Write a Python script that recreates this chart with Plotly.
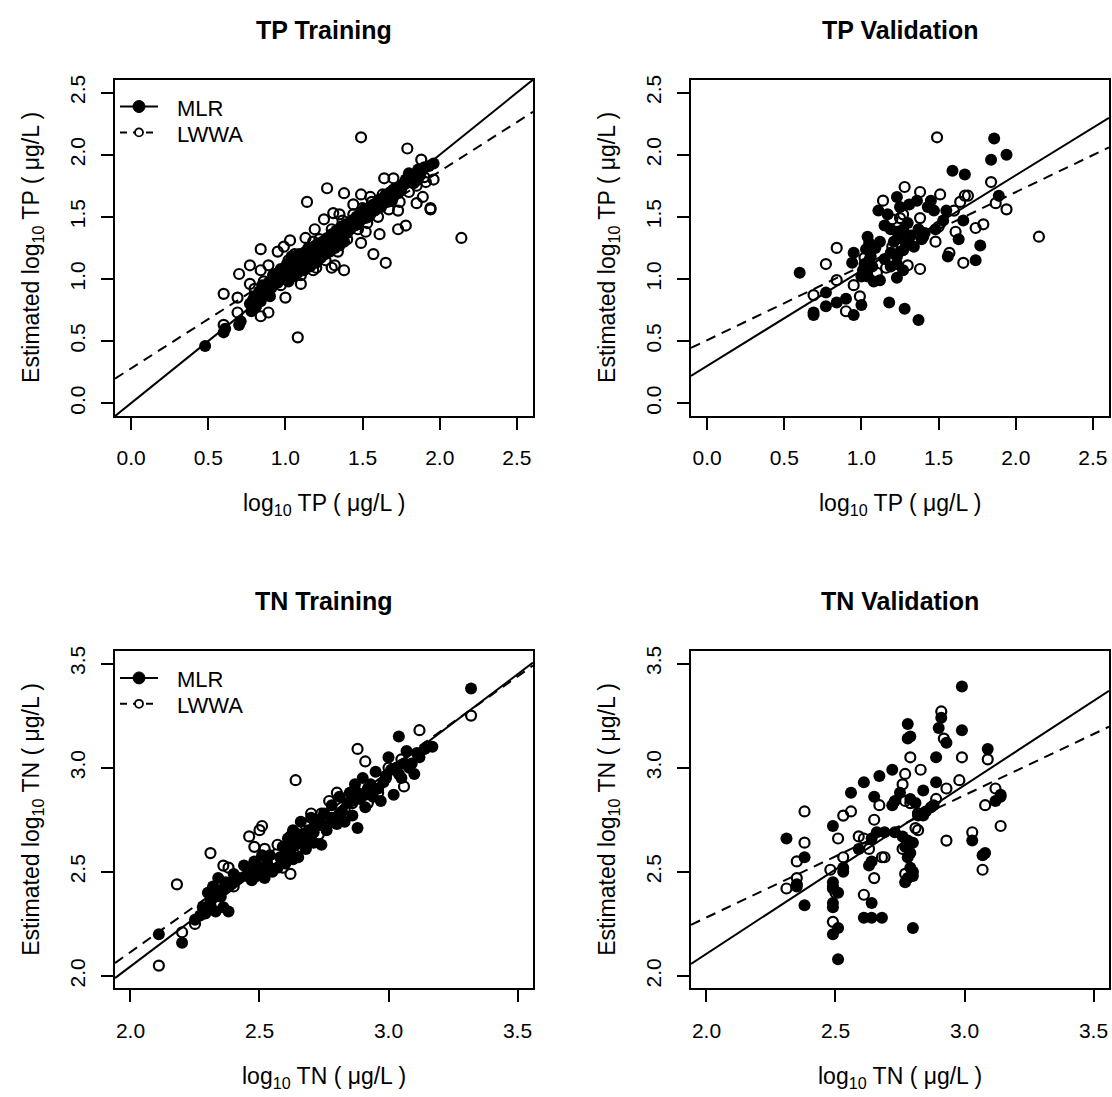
import plotly.graph_objects as go

# ------------------------------------------------------------------ data
# TP training
tp_train_mlr_x = [0.48, 0.60, 0.61, 0.70, 0.71, 0.77, 0.78, 0.80, 0.81, 0.83, 0.84, 0.85, 0.86, 0.88, 0.90,
                  0.92, 0.93, 0.95, 0.97, 0.98, 1.00, 1.01, 1.02, 1.03, 1.04, 1.05, 1.06, 1.07, 1.08, 1.09,
                  1.10, 1.11, 1.12, 1.13, 1.14, 1.15, 1.16, 1.17, 1.18, 1.19, 1.20, 1.21, 1.22, 1.23, 1.24,
                  1.25, 1.26, 1.27, 1.28, 1.29, 1.30, 1.31, 1.32, 1.33, 1.34, 1.35, 1.36, 1.37, 1.38, 1.39,
                  1.40, 1.42, 1.43, 1.45, 1.46, 1.48, 1.50, 1.52, 1.53, 1.55, 1.57, 1.58, 1.60, 1.62, 1.64,
                  1.66, 1.68, 1.70, 1.72, 1.75, 1.78, 1.80, 1.82, 1.84, 1.86, 1.88, 1.90, 1.93, 1.96,
                  0.79, 0.82, 0.87, 0.89, 0.91, 0.94, 0.96, 0.99, 1.015, 1.035, 1.055, 1.075, 1.095, 1.115,
                  1.135, 1.155, 1.175, 1.195, 1.215, 1.235, 1.255, 1.275, 1.295, 1.315, 1.335, 1.355, 1.375,
                  1.41, 1.44, 1.47, 1.49, 1.51, 1.54, 1.56, 1.59, 1.61, 1.65, 1.69, 1.73, 1.77, 1.83, 1.87]
tp_train_mlr_y = [0.46, 0.57, 0.60, 0.63, 0.66, 0.80, 0.74, 0.86, 0.78, 0.90, 0.82, 0.95, 0.88, 0.93, 0.86,
                  0.98, 1.04, 0.97, 1.08, 1.00, 1.05, 1.12, 0.98, 1.10, 1.18, 1.02, 1.08, 1.14, 1.05, 1.20,
                  1.10, 1.16, 1.07, 1.22, 1.12, 1.18, 1.10, 1.25, 1.15, 1.20, 1.13, 1.28, 1.22, 1.17, 1.30,
                  1.24, 1.20, 1.33, 1.26, 1.22, 1.36, 1.29, 1.25, 1.39, 1.31, 1.27, 1.42, 1.34, 1.30, 1.44,
                  1.37, 1.40, 1.47, 1.43, 1.50, 1.46, 1.53, 1.49, 1.56, 1.52, 1.60, 1.55, 1.63, 1.58, 1.66,
                  1.62, 1.70, 1.66, 1.73, 1.72, 1.80, 1.85, 1.78, 1.84, 1.88, 1.86, 1.90, 1.91, 1.93,
                  0.83, 0.85, 0.92, 0.97, 0.93, 1.00, 1.02, 1.06, 1.04, 1.14, 1.09, 1.19, 1.13, 1.10,
                  1.17, 1.24, 1.19, 1.27, 1.17, 1.26, 1.29, 1.24, 1.31, 1.34, 1.28, 1.37, 1.39,
                  1.43, 1.46, 1.44, 1.50, 1.56, 1.50, 1.58, 1.57, 1.64, 1.68, 1.63, 1.69, 1.76, 1.81, 1.83]
tp_train_lwwa_x = [1.49, 1.79, 1.88, 1.64, 1.70, 1.27, 1.38, 1.14, 1.96, 1.91, 1.83, 1.89, 1.85, 1.94, 1.94,
                   1.73, 1.78, 1.73, 1.61, 2.14, 1.49, 1.57, 1.65, 1.32, 1.38, 1.30, 1.20, 0.84, 0.95, 0.99,
                   1.03, 0.77, 0.89, 0.70, 0.84, 0.77, 0.60, 0.69, 1.00, 1.10, 0.69, 0.84, 0.89, 0.60, 1.08,
                   1.13, 1.25, 1.19, 1.49, 1.31,
                   0.80, 0.86, 0.92, 0.97, 1.02, 1.06, 1.10, 1.15, 1.18, 1.22, 1.26, 1.30, 1.34, 1.37, 1.40,
                   1.44, 1.47, 1.50, 1.53, 1.56, 1.60, 1.63, 1.67, 1.70, 1.74, 1.76, 1.80, 1.85, 1.90, 1.44,
                   1.55, 1.18, 1.52, 1.35]
tp_train_lwwa_y = [2.14, 2.05, 1.96, 1.81, 1.81, 1.73, 1.69, 1.62, 1.80, 1.78, 1.77, 1.66, 1.61, 1.57, 1.56,
                   1.55, 1.43, 1.40, 1.36, 1.33, 1.29, 1.20, 1.13, 1.11, 1.07, 1.09, 1.09, 1.24, 1.22, 1.26,
                   1.31, 1.11, 1.11, 1.04, 1.07, 0.96, 0.88, 0.85, 0.85, 0.96, 0.73, 0.70, 0.73, 0.63, 0.53,
                   1.33, 1.48, 1.40, 1.68, 1.53,
                   0.92, 0.98, 1.03, 0.95, 1.15, 1.20, 1.03, 1.25, 1.07, 1.32, 1.15, 1.40, 1.22, 1.47, 1.32,
                   1.52, 1.40, 1.57, 1.45, 1.62, 1.50, 1.68, 1.56, 1.72, 1.62, 1.76, 1.70, 1.75, 1.82, 1.60,
                   1.66, 1.30, 1.38, 1.52]

# TP validation
tp_valid_mlr_x = [0.60, 0.69, 0.69, 0.77, 0.77, 0.84, 0.90, 0.95, 1.00, 0.95, 0.94, 1.04, 1.05, 1.03, 1.06,
                  1.02, 1.01, 1.07, 1.04, 1.08, 1.12, 1.00, 1.11, 1.17, 1.23, 1.25, 1.31, 1.36, 1.15, 1.19,
                  1.23, 1.27, 1.32, 1.37, 1.39, 1.34, 1.27, 1.23, 1.19, 1.15, 1.19, 1.23, 1.27, 1.21, 1.25,
                  1.29, 1.23, 1.18, 1.28, 1.37, 1.45, 1.47, 1.43, 1.55, 1.59, 1.67, 1.86, 1.84, 1.94, 1.89,
                  1.66, 1.63, 1.56, 1.74, 1.77, 1.53, 1.41, 1.48, 1.12, 1.09, 1.30, 1.05]
tp_valid_mlr_y = [1.05, 0.73, 0.71, 0.89, 0.78, 0.81, 0.84, 0.71, 0.79, 1.21, 1.13, 1.34, 1.29, 1.24, 1.18,
                  1.12, 1.07, 1.10, 1.02, 0.98, 0.99, 1.02, 1.55, 1.52, 1.66, 1.58, 1.60, 1.63, 1.43, 1.40,
                  1.38, 1.40, 1.35, 1.40, 1.32, 1.26, 1.23, 1.18, 1.21, 1.16, 1.10, 1.12, 1.07, 1.30, 1.33,
                  1.28, 1.01, 0.81, 0.76, 0.67, 1.63, 1.55, 1.58, 1.55, 1.87, 1.84, 2.13, 1.96, 2.00, 1.67,
                  1.47, 1.32, 1.18, 1.15, 1.27, 1.47, 1.37, 1.40, 1.30, 1.25, 1.45, 1.15]
tp_valid_lwwa_x = [1.49, 1.84, 1.87, 1.94, 2.15, 1.28, 1.38, 1.51, 1.14, 1.64, 1.67, 1.69, 1.60, 1.38, 1.25,
                   1.27, 1.61, 1.74, 1.79, 1.48, 1.40, 0.84, 0.77, 0.84, 0.69, 0.90, 0.99, 0.95, 1.02, 1.30,
                   1.38, 1.16, 1.57, 1.66, 1.20, 1.10, 1.50, 1.20]
tp_valid_lwwa_y = [2.14, 1.78, 1.61, 1.56, 1.34, 1.74, 1.70, 1.68, 1.63, 1.62, 1.67, 1.67, 1.55, 1.49, 1.49,
                   1.52, 1.38, 1.41, 1.44, 1.30, 1.34, 1.25, 1.12, 0.99, 0.87, 0.74, 0.86, 0.95, 1.17, 1.11,
                   1.08, 1.09, 1.21, 1.13, 1.26, 1.05, 1.42, 1.48]

# TN training
tn_train_mlr_x = [2.11, 2.20, 2.25, 2.28, 2.29, 2.30, 2.31, 2.32, 2.33, 2.34, 2.35, 2.36, 2.37, 2.38, 2.40,
                  2.44, 2.46, 2.47, 2.48, 2.49, 2.50, 2.51, 2.52, 2.53, 2.55, 2.58, 2.59, 2.60, 2.61, 2.62,
                  2.63, 2.64, 2.65, 2.66, 2.67, 2.68, 2.69, 2.70, 2.71, 2.72, 2.74, 2.75, 2.76, 2.78, 2.79,
                  2.80, 2.81, 2.82, 2.84, 2.85, 2.86, 2.87, 2.88, 2.89, 2.90, 2.91, 2.92, 2.94, 2.95, 2.97,
                  2.98, 3.00, 3.02, 3.03, 3.04, 3.05, 3.07, 3.09, 3.10, 3.12, 3.17, 3.32,
                  2.27, 2.31, 2.33, 2.36, 2.39, 2.42, 2.45, 2.49, 2.52, 2.54, 2.57, 2.60, 2.62, 2.63, 2.65,
                  2.67, 2.69, 2.71, 2.73, 2.76, 2.78, 2.81, 2.83, 2.86, 2.88, 2.91, 2.93, 2.96, 2.99, 3.01,
                  3.04, 3.06, 3.08, 3.11, 3.14]
tn_train_mlr_y = [2.20, 2.16, 2.27, 2.33, 2.30, 2.40, 2.36, 2.43, 2.31, 2.47, 2.38, 2.33, 2.45, 2.31, 2.49,
                  2.53, 2.50, 2.46, 2.55, 2.48, 2.52, 2.58, 2.47, 2.54, 2.50, 2.57, 2.62, 2.54, 2.66, 2.59,
                  2.70, 2.63, 2.57, 2.74, 2.66, 2.61, 2.70, 2.76, 2.64, 2.72, 2.63, 2.78, 2.70, 2.82, 2.74,
                  2.73, 2.86, 2.79, 2.83, 2.88, 2.77, 2.92, 2.71, 2.85, 2.95, 2.81, 2.90, 2.86, 2.98, 2.84,
                  2.93, 3.05, 2.87, 3.00, 3.15, 2.95, 3.08, 3.02, 2.97, 3.05, 3.10, 3.38,
                  2.29, 2.34, 2.40, 2.42, 2.44, 2.47, 2.48, 2.53, 2.50, 2.58, 2.52, 2.58, 2.64, 2.56, 2.68,
                  2.63, 2.66, 2.69, 2.75, 2.72, 2.76, 2.78, 2.74, 2.84, 2.88, 2.87, 2.92, 2.90, 2.96, 2.99,
                  2.97, 3.02, 3.00, 3.07, 3.09]
tn_train_lwwa_x = [2.11, 2.18, 2.20, 2.25, 2.31, 2.36, 2.38, 2.34, 2.40, 2.46, 2.51, 2.50, 2.48, 2.52, 2.55,
                   2.59, 2.62, 2.61, 2.64, 2.62, 2.66, 2.68, 2.70, 2.73, 2.77, 2.74, 2.80, 2.83, 2.86, 2.88,
                   2.91, 2.92, 2.96, 2.99, 3.06, 3.00, 3.05, 3.08, 3.12, 3.15, 3.32, 2.57]
tn_train_lwwa_y = [2.05, 2.44, 2.21, 2.25, 2.59, 2.53, 2.52, 2.39, 2.43, 2.67, 2.72, 2.70, 2.62, 2.61, 2.56,
                   2.52, 2.49, 2.56, 2.94, 2.67, 2.62, 2.72, 2.78, 2.68, 2.84, 2.78, 2.88, 2.80, 2.83, 3.09,
                   3.03, 2.83, 2.88, 2.95, 2.91, 3.00, 3.04, 3.06, 3.18, 3.10, 3.25, 2.63]

# TN validation
tn_valid_mlr_x = [2.99, 2.78, 2.79, 2.78, 2.91, 2.90, 2.99, 2.93, 2.89, 3.09, 2.72, 2.67, 2.61, 2.56, 2.89,
                  2.84, 2.75, 2.79, 2.81, 2.73, 2.72, 2.65, 2.66, 2.64, 2.69, 2.73, 2.76, 2.78, 2.80, 2.77,
                  2.49, 2.31, 2.38, 2.35, 2.35, 2.38, 2.49, 2.49, 2.51, 2.49, 2.49, 2.49, 2.51, 2.51, 2.53,
                  2.53, 2.59, 2.63, 2.64, 2.64, 2.61, 2.64, 2.68, 2.80, 2.77, 2.78, 2.80, 2.80, 2.79, 2.78,
                  2.79, 2.85, 2.87, 2.88, 2.84, 3.03, 3.08, 3.07, 3.14, 3.14, 3.12, 2.82]
tn_valid_mlr_y = [3.39, 3.21, 3.15, 3.14, 3.24, 3.19, 3.18, 3.12, 3.05, 3.09, 2.99, 2.96, 2.93, 2.88, 2.93,
                  2.89, 2.88, 2.85, 2.83, 2.84, 2.82, 2.86, 2.69, 2.66, 2.69, 2.69, 2.67, 2.65, 2.64, 2.62,
                  2.72, 2.66, 2.57, 2.44, 2.43, 2.34, 2.45, 2.43, 2.40, 2.35, 2.33, 2.20, 2.23, 2.08, 2.50,
                  2.52, 2.61, 2.53, 2.55, 2.35, 2.28, 2.28, 2.28, 2.23, 2.45, 2.47, 2.48, 2.50, 2.52, 2.57,
                  2.59, 2.79, 2.81, 2.82, 2.77, 2.65, 2.59, 2.58, 2.86, 2.87, 2.84, 2.77]
tn_valid_lwwa_x = [2.91, 2.92, 2.99, 2.79, 3.09, 2.98, 2.93, 2.77, 2.76, 2.83, 2.89, 2.77, 2.79, 2.82, 3.12,
                   3.08, 3.14, 3.07, 3.03, 2.93, 2.82, 2.76, 2.77, 2.38, 2.53, 2.56, 2.65, 2.67, 2.38, 2.35,
                   2.31, 2.35, 2.48, 2.51, 2.53, 2.59, 2.61, 2.63, 2.68, 2.69, 2.65, 2.61, 2.49, 2.50, 2.49,
                   2.81, 2.82]
tn_valid_lwwa_y = [3.27, 3.14, 3.05, 3.05, 3.04, 2.94, 2.90, 2.97, 2.92, 2.99, 2.85, 2.84, 2.83, 2.78, 2.90,
                   2.82, 2.72, 2.51, 2.69, 2.65, 2.70, 2.61, 2.49, 2.79, 2.77, 2.79, 2.75, 2.82, 2.64, 2.55,
                   2.42, 2.47, 2.51, 2.66, 2.57, 2.67, 2.66, 2.61, 2.57, 2.57, 2.47, 2.39, 2.42, 2.40, 2.26,
                   2.71, 2.78]

# fitted lines: [intercept, slope]
tp_train_mlr_fit = [0.00, 1.000]
tp_train_lwwa_fit = [0.28, 0.793]
tp_valid_mlr_fit = [0.30, 0.767]
tp_valid_lwwa_fit = [0.507, 0.596]
tn_train_mlr_fit = [0.176, 0.935]
tn_train_lwwa_fit = [0.351, 0.882]
tn_valid_mlr_fit = [0.489, 0.809]
tn_valid_lwwa_fit = [1.107, 0.587]

tp_ticks = [0.0, 0.5, 1.0, 1.5, 2.0, 2.5]
tn_ticks = [2.0, 2.5, 3.0, 3.5]
tp_range = [-0.104, 2.604]
tn_range = [1.94, 3.56]

panel_titles = ["TP Training", "TP Validation", "TN Training", "TN Validation"]
x_titles = ["log<sub>10</sub> TP ( μg/L )", "log<sub>10</sub> TP ( μg/L )",
            "log<sub>10</sub> TN ( μg/L )", "log<sub>10</sub> TN ( μg/L )"]
y_titles = ["Estimated log<sub>10</sub> TP ( μg/L )", "Estimated log<sub>10</sub> TP ( μg/L )",
            "Estimated log<sub>10</sub> TN ( μg/L )", "Estimated log<sub>10</sub> TN ( μg/L )"]
legend_names = ["MLR", "LWWA"]

# ------------------------------------------------------------------ layout helpers
W, H = 1112, 1097
FONT = "Liberation Sans, Arial, Helvetica, sans-serif"
px_x = lambda p: p / W
px_y = lambda p: 1 - p / H

col_px = [(115, 533), (691, 1109)]
row_px = [(75, 413), (649, 988)]

panels = [
    dict(mlr=(tp_train_mlr_x, tp_train_mlr_y), lwwa=(tp_train_lwwa_x, tp_train_lwwa_y),
         fits=(tp_train_mlr_fit, tp_train_lwwa_fit), rng=tp_range, ticks=tp_ticks, r=0, c=0, legend=True),
    dict(mlr=(tp_valid_mlr_x, tp_valid_mlr_y), lwwa=(tp_valid_lwwa_x, tp_valid_lwwa_y),
         fits=(tp_valid_mlr_fit, tp_valid_lwwa_fit), rng=tp_range, ticks=tp_ticks, r=0, c=1, legend=False),
    dict(mlr=(tn_train_mlr_x, tn_train_mlr_y), lwwa=(tn_train_lwwa_x, tn_train_lwwa_y),
         fits=(tn_train_mlr_fit, tn_train_lwwa_fit), rng=tn_range, ticks=tn_ticks, r=1, c=0, legend=True),
    dict(mlr=(tn_valid_mlr_x, tn_valid_mlr_y), lwwa=(tn_valid_lwwa_x, tn_valid_lwwa_y),
         fits=(tn_valid_mlr_fit, tn_valid_lwwa_fit), rng=tn_range, ticks=tn_ticks, r=1, c=1, legend=False),
]

fig = go.Figure()
annotations = []
shapes = []
layout_axes = {}

filled = dict(symbol="circle", size=12, color="black")
hollow = dict(symbol="circle-open", size=10, color="black", line=dict(width=2.2, color="black"))

for i, p in enumerate(panels):
    n = "" if i == 0 else str(i + 1)
    xa, ya = "x" + n, "y" + n
    x0, x1 = col_px[p["c"]]
    y0, y1 = row_px[p["r"]]

    fig.add_trace(go.Scatter(x=p["mlr"][0], y=p["mlr"][1], mode="markers", marker=filled,
                             xaxis=xa, yaxis=ya, showlegend=False, name="MLR"))
    fig.add_trace(go.Scatter(x=p["lwwa"][0], y=p["lwwa"][1], mode="markers", marker=hollow,
                             xaxis=xa, yaxis=ya, showlegend=False, name="LWWA"))
    for fit, dash in zip(p["fits"], ["solid", "10px,7px"]):
        lx = list(p["rng"])
        ly = [fit[0] + fit[1] * v for v in lx]
        fig.add_trace(go.Scatter(x=lx, y=ly, mode="lines", line=dict(color="black", width=2, dash=dash),
                                 xaxis=xa, yaxis=ya, showlegend=False, hoverinfo="skip"))

    if p["legend"]:
        # manual R-style legend in the top-left corner of the panel
        ly1 = y0 + 27   # MLR row
        ly2 = y0 + 53   # LWWA row
        shapes.append(dict(type="line", xref="paper", yref="paper", x0=px_x(x0 + 5), x1=px_x(x0 + 43),
                           y0=px_y(ly1), y1=px_y(ly1), line=dict(color="black", width=2)))
        shapes.append(dict(type="circle", xref="paper", yref="paper", x0=px_x(x0 + 18), x1=px_x(x0 + 30),
                           y0=px_y(ly1 + 6), y1=px_y(ly1 - 6), fillcolor="black",
                           line=dict(color="black", width=1)))
        shapes.append(dict(type="line", xref="paper", yref="paper", x0=px_x(x0 + 5), x1=px_x(x0 + 43),
                           y0=px_y(ly2), y1=px_y(ly2), line=dict(color="black", width=2, dash="7px,6px")))
        shapes.append(dict(type="circle", xref="paper", yref="paper", x0=px_x(x0 + 20), x1=px_x(x0 + 28),
                           y0=px_y(ly2 + 4), y1=px_y(ly2 - 4), fillcolor="white",
                           line=dict(color="black", width=1.8)))
        for name, yy in zip(legend_names, [ly1, ly2]):
            annotations.append(dict(text=name, x=px_x(x0 + 60), y=px_y(yy + 2), xref="paper", yref="paper",
                                    showarrow=False, xanchor="left", yanchor="middle",
                                    font=dict(family=FONT, size=22, color="black")))

    common = dict(showgrid=False, zeroline=False, showline=True, mirror=True, linecolor="black",
                  linewidth=2, ticks="outside", ticklen=12, tickwidth=2, tickcolor="black",
                  tickvals=p["ticks"], ticktext=["%.1f" % t for t in p["ticks"]],
                  tickfont=dict(family=FONT, size=21, color="black"), range=p["rng"])
    layout_axes["xaxis" + n] = dict(common, domain=[px_x(x0), px_x(x1)], anchor=ya, ticklabelstandoff=10)
    layout_axes["yaxis" + n] = dict(common, domain=[px_y(y1), px_y(y0)], anchor=xa, tickangle=-90,
                                    ticklabelstandoff=8)

    cx = (x0 + x1) / 2
    cy = (y0 + y1) / 2
    annotations.append(dict(text="<b>%s</b>" % panel_titles[i], x=px_x(cx), y=px_y(y0 - 50),
                            xref="paper", yref="paper", showarrow=False, xanchor="center", yanchor="middle",
                            font=dict(family=FONT, size=25, color="black")))
    annotations.append(dict(text=x_titles[i], x=px_x(cx), y=px_y(y1 + 89),
                            xref="paper", yref="paper", showarrow=False, xanchor="center", yanchor="middle",
                            font=dict(family=FONT, size=23, color="black")))
    annotations.append(dict(text=y_titles[i], x=px_x(x0 - 82), y=px_y(cy), textangle=-90,
                            xref="paper", yref="paper", showarrow=False, xanchor="center", yanchor="middle",
                            font=dict(family=FONT, size=23, color="black")))

fig.update_layout(
    width=W, height=H,
    margin=dict(l=0, r=0, t=0, b=0),
    paper_bgcolor="white", plot_bgcolor="white",
    font=dict(family=FONT, color="black"),
    annotations=annotations,
    shapes=shapes,
    showlegend=False,
    hovermode=False,
    **layout_axes,
)

fig.write_html("out.html",
               config={"displayModeBar": False},
               post_script="document.body.style.margin='0';document.body.style.overflow='hidden';")
